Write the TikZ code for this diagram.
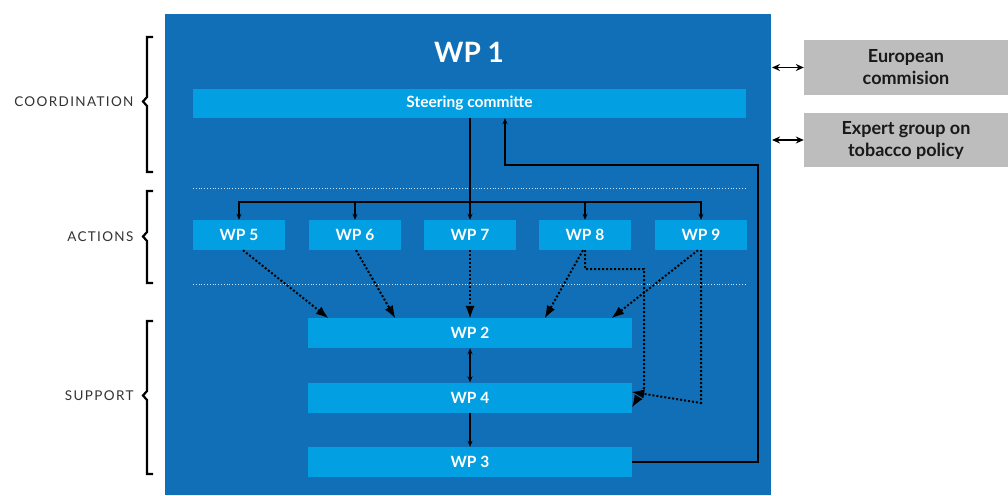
\documentclass[tikz,border=0pt]{standalone}
\usepackage{fontspec}
\setmainfont{Lato}
\usetikzlibrary{arrows.meta}
\definecolor{mainblue}{HTML}{106FB6}
\definecolor{lightblue}{HTML}{02A0E3}
\definecolor{boxgray}{HTML}{BDBDBD}
\definecolor{labelgray}{HTML}{333333}
\begin{document}
\begin{tikzpicture}[x=1pt,y=-1pt,
  lbox/.style={fill=lightblue,text=white,font=\bfseries\fontsize{15.5}{18}\selectfont,inner sep=0pt,anchor=center},
  wpbox/.style={lbox,minimum width=92pt,minimum height=30pt},
  widebox/.style={lbox,minimum width=324pt,minimum height=30pt},
  graybox/.style={fill=boxgray,text=black!90,font=\bfseries\fontsize{18}{22}\selectfont,align=center,minimum width=204pt,inner sep=0pt},
  solidarr/.style={line width=1.8pt,-{Stealth[length=6pt,width=5pt]}},
  dotarr/.style={line width=2pt,dash pattern=on 2pt off 2pt,-{Latex[length=12pt,width=9pt,line width=0pt]}},
  dblarr/.style={line width=1.8pt,{Stealth[length=8pt,width=7pt]}-{Stealth[length=8pt,width=7pt]}},
  brace/.style={line width=2.2pt,black},
  sidelabel/.style={anchor=east,text=labelgray,font=\fontsize{13.5}{15}\selectfont\addfontfeatures{LetterSpace=10}},
  sep/.style={white!80!mainblue,line width=0.8pt,dotted}]
\useasboundingbox (0,0) rectangle (1008,495);
% main box
\fill[mainblue] (165,14) rectangle (771,495);
\node[text=white,font=\bfseries\fontsize{28}{30}\selectfont] (wp1) at (469,52) {WP 1};
\node[lbox,minimum width=553pt,minimum height=29pt] (steer) at (469.5,103.5) {Steering committe};
% separators
\draw[sep] (193,188) -- (746,188);
\draw[sep] (193,284) -- (746,284);
% action boxes
\node[wpbox] (wp5) at (239,235) {WP 5};
\node[wpbox] (wp6) at (355,235) {WP 6};
\node[wpbox] (wp7) at (470,235) {WP 7};
\node[wpbox] (wp8) at (585,235) {WP 8};
\node[wpbox] (wp9) at (701,235) {WP 9};
% support boxes
\node[widebox] (wp2) at (470,333) {WP 2};
\node[widebox] (wp4) at (470,397.5) {WP 4};
\node[widebox] (wp3) at (470,462) {WP 3};
% gray boxes
\node[graybox,minimum height=55pt] (ec) at (906,67.5) {European\\commision};
\node[graybox,minimum height=54pt] (eg) at (906,140) {Expert group on\\tobacco policy};
% bus
\coordinate (bus) at (470,202);
\draw[line width=1.8pt] (steer.south -| bus) -- (bus);
\draw[line width=1.8pt] ([xshift=-0.9pt]wp5.north |- bus) -- ([xshift=0.9pt]wp9.north |- bus);
\foreach \n in {wp5,wp6,wp7,wp8,wp9}{
  \draw[solidarr] (\n.north |- bus) -- (\n.north);
}
% support chain
\draw[line width=1.8pt,{Stealth[length=6pt,width=5pt]}-{Stealth[length=6pt,width=5pt]}] (wp2.south) -- (wp4.north);
\draw[solidarr] (wp4.south) -- (wp3.north);
% feedback
\coordinate (fbR) at (758,165);
\coordinate (fbL) at (505,165);
\draw[solidarr] (wp3.east) -- (wp3.east -| fbR) -- (fbR) -- (fbL) -- (fbL |- steer.south);
% dotted arrows
\draw[dotarr] ([xshift=4pt]wp5.south) -- ([xshift=-142pt]wp2.north);
\draw[dotarr] ([xshift=1pt]wp6.south) -- ([xshift=-75pt]wp2.north);
\draw[dotarr] (wp7.south) -- (wp2.north);
\draw[dotarr] ([xshift=-2pt]wp8.south) -- ([xshift=75pt]wp2.north);
\draw[dotarr] ([xshift=-3pt]wp9.south) -- ([xshift=142pt]wp2.north);
\coordinate (l8) at (644,269);
\draw[dotarr] (wp8.south) -- (wp8.south |- l8) -- (l8) -- (l8 |- 0,388) -- ([yshift=-9.5pt]wp4.east);
\draw[dotarr] (wp9.south) -- (wp9.south |- 0,403) -- ([yshift=5.5pt]wp4.east);
% external links
\draw[dblarr] (ec.west -| 772,0) -- (ec.west);
\draw[dblarr] (eg.west -| 772,0) -- (eg.west);
% braces
\draw[brace] (153,37) -- (147,37) -- (147,97) -- (143,101.5) -- (147,106) -- (147,172) -- (153,172);
\draw[brace] (153,191) -- (147,191) -- (147,232) -- (143,236.5) -- (147,241) -- (147,283) -- (153,283);
\draw[brace] (153,321) -- (147,321) -- (147,391) -- (143,395.5) -- (147,400) -- (147,474) -- (153,474);
\node[sidelabel] (lcoord) at (137,102) {COORDINATION};
\node[sidelabel] (lact) at (137,236.5) {ACTIONS};
\node[sidelabel] (lsup) at (137,395.5) {SUPPORT};
\end{tikzpicture}
\end{document}
